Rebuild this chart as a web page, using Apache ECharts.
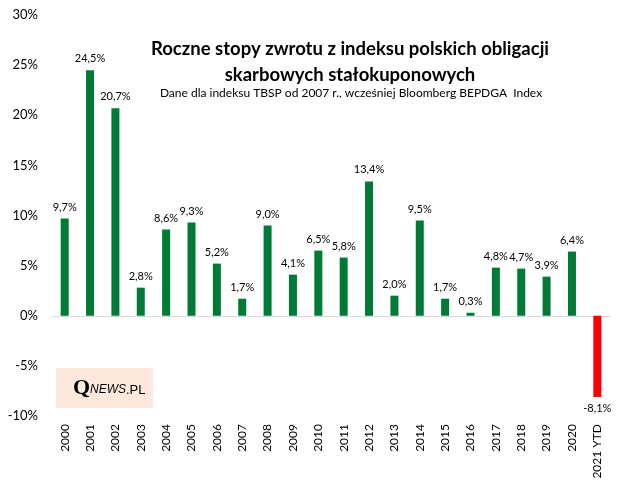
<!DOCTYPE html>
<html><head><meta charset="utf-8">
<script src="https://cdn.jsdelivr.net/npm/echarts@6/dist/echarts.min.js"></script>
<style>html,body{margin:0;padding:0;background:#fff}#c{width:624px;height:491px}</style>
</head><body><div id="c"></div>
<script>
const categories = ['2000','2001','2002','2003','2004','2005','2006','2007','2008','2009','2010','2011','2012','2013','2014','2015','2016','2017','2018','2019','2020','2021 YTD'];
const values = [9.7,24.5,20.7,2.8,8.6,9.3,5.2,1.7,9.0,4.1,6.5,5.8,13.4,2.0,9.5,1.7,0.3,4.8,4.7,3.9,6.4,-8.1];
const yTicks = [-10,-5,0,5,10,15,20,25,30];
const titleText = 'Roczne stopy zwrotu z indeksu polskich obligacji\nskarbowych stałokuponowych';
const subText = 'Dane dla indeksu TBSP od 2007 r., wcześniej Bloomberg BEPDGA  Index';

const FONT = 'Lato, "Open Sans", sans-serif';
const chart = echarts.init(document.getElementById('c'));
const barData = values.map(v => ({
  value: v,
  itemStyle: { color: v < 0 ? '#ff0000' : '#007a37' },
  label: { position: v < 0 ? 'bottom' : 'top' }
}));
chart.setOption({
  animation: false,
  backgroundColor: '#fff',
  title: [{
    text: titleText,
    left: 345, top: 31, textAlign: 'center',
    textStyle: { fontFamily: FONT, fontSize: 18.5, fontWeight: 'bold', color: '#000', lineHeight: 26 }
  }, {
    text: subText,
    left: 346, top: 82, textAlign: 'center',
    textStyle: { fontFamily: FONT, fontSize: 12, fontWeight: 'normal', color: '#000' }
  }],
  grid: { left: 52, right: 14, top: 15, bottom: 75, containLabel: false },
  xAxis: [{
    type: 'category', data: categories,
    axisLine: { onZero: true, lineStyle: { color: '#d9d9d9', width: 1 } },
    axisTick: { show: false }, axisLabel: { show: false }
  }, {
    type: 'category', data: categories, position: 'bottom',
    axisLine: { show: false, onZero: false }, axisTick: { show: false },
    axisLabel: { rotate: 90, fontFamily: FONT, fontSize: 12, color: '#000', margin: 8, interval: 0 }
  }],
  yAxis: {
    type: 'value', min: -10, max: 30, interval: 5,
    axisLine: { show: false }, axisTick: { show: false }, splitLine: { show: false },
    axisLabel: { formatter: v => v + '%', fontFamily: FONT, fontSize: 13, color: '#000', margin: 14 }
  },
  series: [{
    type: 'bar', xAxisIndex: 0, data: barData, barWidth: 8,
    label: {
      show: true, fontFamily: FONT, fontSize: 11, color: '#000', distance: 6,
      formatter: p => p.value.toFixed(1).replace('.', ',') + '%'
    }
  }],
  graphic: [{
    type: 'rect', left: 56, top: 368, shape: { width: 97, height: 40 },
    style: { fill: '#fce9dc' }, z: 0
  }, {
    type: 'text', z: 10,
    style: { x: 73, y: 388, verticalAlign: 'middle', text: 'Q', font: 'bold 22px "Liberation Serif", serif', fill: '#000' }
  }, {
    type: 'text', z: 10,
    style: { x: 90, y: 390, verticalAlign: 'middle', text: 'NEWS', font: 'italic 12px "Liberation Sans", sans-serif', fill: '#000' }
  }, {
    type: 'text', z: 10,
    style: { x: 126, y: 390, verticalAlign: 'middle', text: '.PL', font: '13px "Liberation Sans", sans-serif', fill: '#000' }
  }]
});
</script></body></html>
